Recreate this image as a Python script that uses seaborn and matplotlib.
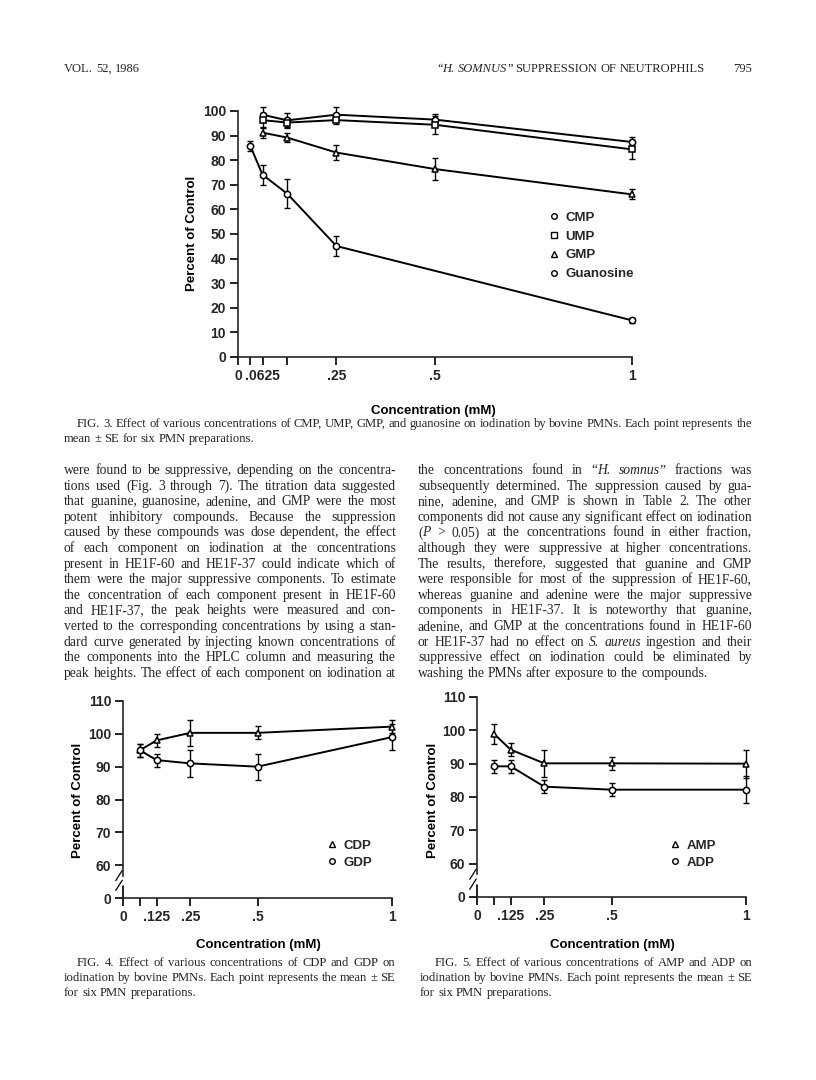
import numpy as np
import pandas as pd
import matplotlib
matplotlib.use("Agg")
import matplotlib.pyplot as plt
from matplotlib.lines import Line2D
import seaborn as sns

W, H = 816, 1080

# ---- FIG. 3 data (mM, percent of control, SE)
conc3 = [0.0625, 0.125, 0.25, 0.5, 1]
cmp_y = [98.5, 96.2, 98.5, 96.5, 87.4]
cmp_se = [3, 3, 3, 2.3, 2]
ump_y = [96.3, 95.3, 96.3, 94.4, 84.4]
ump_se = [3, 2, 1.5, 3.7, 4]
gmp_y = [91.2, 89.2, 83.1, 76.4, 66.1]
gmp_se = [2, 2, 3, 4.5, 2]
guo_x = [0.03125, 0.0625, 0.125, 0.25, 1]
guo_y = [85.9, 74.1, 66.4, 45.1, 14.9]
guo_se = [2, 4, 6, 4, 1]

# ---- FIG. 4 / FIG. 5 data
conc45 = [0.0625, 0.125, 0.25, 0.5, 1]
cdp_y = [95, 98, 100.3, 100.3, 102.2]
cdp_se = [2, 2, 4, 2, 2]
gdp_y = [95, 92, 91, 90, 99]
gdp_se = [2, 2, 4, 4, 4]
amp_y = [99, 94.2, 90.1, 90.1, 90]
amp_se = [3, 2, 4, 2, 4.2]
adp_y = [89.2, 89.2, 83.1, 82.2, 82.2]
adp_se = [2, 2, 2, 2, 4]

ticks3 = [0, 0.03125, 0.0625, 0.125, 0.25, 0.5, 1]
ticklab3 = ['0', '', '.0625', '', '.25', '.5', '1']
ticks45 = [0, 0.0625, 0.125, 0.25, 0.5, 1]
ticklab45 = ['0', '', '.125', '.25', '.5', '1']

header_left = "VOL. 52, 1986"
header_right = "“_H. SOMNUS_” SUPPRESSION OF NEUTROPHILS"
page_no = "795"

cap3 = ["FIG. 3. Effect of various concentrations of CMP, UMP, GMP, and guanosine on iodination by bovine PMNs. Each point represents the",
        "mean ± SE for six PMN preparations."]
cap4 = ["FIG. 4. Effect of various concentrations of CDP and GDP on",
        "iodination by bovine PMNs. Each point represents the mean ± SE",
        "for six PMN preparations."]
cap5 = ["FIG. 5. Effect of various concentrations of AMP and ADP on",
        "iodination by bovine PMNs. Each point represents the mean ± SE",
        "for six PMN preparations."]

col_left = [
    "were found to be suppressive, depending on the concentra-",
    "tions used (Fig. 3 through 7). The titration data suggested",
    "that guanine, guanosine, adenine, and GMP were the most",
    "potent inhibitory compounds. Because the suppression",
    "caused by these compounds was dose dependent, the effect",
    "of each component on iodination at the concentrations",
    "present in HE1F-60 and HE1F-37 could indicate which of",
    "them were the major suppressive components. To estimate",
    "the concentration of each component present in HE1F-60",
    "and HE1F-37, the peak heights were measured and con-",
    "verted to the corresponding concentrations by using a stan-",
    "dard curve generated by injecting known concentrations of",
    "the components into the HPLC column and measuring the",
    "peak heights. The effect of each component on iodination at",
]
col_right = [
    "the concentrations found in “_H._ _somnus_” fractions was",
    "subsequently determined. The suppression caused by gua-",
    "nine, adenine, and GMP is shown in Table 2. The other",
    "components did not cause any significant effect on iodination",
    "(_P_ > 0.05) at the concentrations found in either fraction,",
    "although they were suppressive at higher concentrations.",
    "The results, therefore, suggested that guanine and GMP",
    "were responsible for most of the suppression of HE1F-60,",
    "whereas guanine and adenine were the major suppressive",
    "components in HE1F-37. It is noteworthy that guanine,",
    "adenine, and GMP at the concentrations found in HE1F-60",
    "or HE1F-37 had no effect on _S._ _aureus_ ingestion and their",
    "suppressive effect on iodination could be eliminated by",
    "washing the PMNs after exposure to the compounds.",
]

sns.set_style("ticks")
sans = ['Liberation Sans', 'DejaVu Sans']
serif = ['Liberation Serif', 'DejaVu Serif']
plt.rcParams['font.family'] = sans
plt.rcParams['axes.linewidth'] = 1.2

fig = plt.figure(figsize=(W / 100, H / 100), dpi=100)
fig.patch.set_facecolor('white')
rend = fig.canvas.get_renderer()

lab_kw = dict(family=sans, weight='bold', size=9.5, color='black')
BODY = 9.8
CAP = 9.1


def put_line(line, x0, y, x1=None, size=BODY):
    # place a line word by word; '_' toggles italics; justify if x1 given
    ital = False
    words = []
    for w in line.split(' '):
        segs = []
        for k, p in enumerate(w.split('_')):
            if k > 0:
                ital = not ital
            if p:
                segs.append((p, ital))
        words.append(segs)
    objs, widths = [], []
    for segs in words:
        row, tot = [], 0
        for txt, it in segs:
            t = fig.text(0, 1 - y / H, txt, family=serif, size=size,
                         style='italic' if it else 'normal', va='baseline', ha='left')
            wd = t.get_window_extent(rend).width
            row.append((t, wd))
            tot += wd
        objs.append(row)
        widths.append(tot)
    gap = 0.25 * size * 100 / 72
    if x1 is not None and len(words) > 1:
        gap = (x1 - x0 - sum(widths)) / (len(words) - 1)
    x = x0
    for row in objs:
        for t, wd in row:
            t.set_x(x / W)
            x += wd
        x += gap
    return x


def make_axes(left, right, bottom, top):
    return fig.add_axes([left / W, 1 - bottom / H, (right - left) / W, (bottom - top) / H])


def style_axes(ax, xt, xl):
    sns.despine(ax=ax)
    ax.spines['left'].set_position(('data', 0))
    ax.set_xticks(xt)
    ax.set_xticklabels(xl)
    ax.tick_params(direction='out', length=5.5, width=1.2, color='black',
                   labelsize=10, pad=3)
    for lab in ax.get_xticklabels() + ax.get_yticklabels():
        lab.set_fontweight('bold')
        lab.set_family(sans)
    ax.set_xlabel('')
    ax.set_ylabel('')
    ax.patch.set_alpha(0)


def draw_series(ax, df, markers):
    sns.lineplot(data=df, x='conc', y='pct', style='series', markers=markers,
                 dashes=False, color='black', lw=1.4, markersize=4.5,
                 markerfacecolor='white', markeredgecolor='black', markeredgewidth=1.1,
                 errorbar=None, legend=False, ax=ax, zorder=3, clip_on=False)
    for name, g in df.groupby('series'):
        eb = ax.errorbar(g['conc'], g['pct'], yerr=g['se'], fmt='none', ecolor='black',
                         elinewidth=1, capsize=2.5, capthick=1, zorder=2)
        for a in list(eb.lines[1]) + list(eb.lines[2]):
            a.set_clip_on(False)


def legend(ax, names, markers, x, y, spacing):
    hs = [Line2D([], [], marker=markers[n], ls='none', mfc='white', mec='black',
                 mew=1, ms=4) for n in names]
    ax.legend(hs, names, loc='upper left', bbox_to_anchor=(x / W, 1 - y / H),
              bbox_transform=fig.transFigure, frameon=False, handlelength=0.6,
              handletextpad=0.6, labelspacing=spacing, borderpad=0,
              prop=dict(family=sans, weight='bold', size=9.5))


def long(xs, ys, ses, name):
    return pd.DataFrame({'conc': xs, 'pct': ys, 'se': ses, 'series': name})


# ---------------- FIG. 3
ax3 = make_axes(232, 632, 357, 111)
df3 = pd.concat([long(conc3, cmp_y, cmp_se, 'CMP'), long(conc3, ump_y, ump_se, 'UMP'),
                 long(conc3, gmp_y, gmp_se, 'GMP'), long(guo_x, guo_y, guo_se, 'Guanosine')])
mk3 = {'CMP': 'o', 'UMP': 's', 'GMP': '^', 'Guanosine': 'o'}
draw_series(ax3, df3, mk3)
ax3.set_xlim(-0.015, 1)
ax3.set_ylim(0, 100)
ax3.set_yticks(range(0, 101, 10))
style_axes(ax3, ticks3, ticklab3)
legend(ax3, ['CMP', 'UMP', 'GMP', 'Guanosine'], mk3, 543, 205, 0.5)
fig.text(192 / W, 1 - 233 / H, 'Percent of Control', rotation=90, ha='center', va='center', **lab_kw)
fig.text(433 / W, 1 - 411 / H, 'Concentration (mM)', ha='center', va='center', **lab_kw)


def broken_axes(left, right, bottom, top, df, mk, names, legx, legy):
    ax = make_axes(left, right, bottom, top)
    draw_series(ax, df, mk)
    ax.set_xlim(-0.015, 1)
    ax.set_ylim(50, 110)
    ax.set_yticks(range(50, 111, 10))
    ax.set_yticklabels(['0'] + [str(v) for v in range(60, 111, 10)])
    style_axes(ax, ticks45, ticklab45)
    ax.spines['left'].set_bounds(56.8, 110)
    ax.plot([0, 0], [50, 53.6], color='black', lw=1.2, clip_on=False)
    tr = ax.get_yaxis_transform()
    for yb in (53.2, 56.2):
        ax.plot([-0.012, 0.012], [yb - 0.9, yb + 2.2], color='black', lw=0.9,
                transform=tr, clip_on=False)
    legend(ax, names, mk, legx, legy, 0.35)
    return ax


# ---------------- FIG. 4
df4 = pd.concat([long(conc45, cdp_y, cdp_se, 'CDP'), long(conc45, gdp_y, gdp_se, 'GDP')])
mk4 = {'CDP': '^', 'GDP': 'o'}
broken_axes(119, 392, 898, 701, df4, mk4, ['CDP', 'GDP'], 321, 833)
fig.text(78 / W, 1 - 800 / H, 'Percent of Control', rotation=90, ha='center', va='center', **lab_kw)
fig.text(258 / W, 1 - 945 / H, 'Concentration (mM)', ha='center', va='center', **lab_kw)

# ---------------- FIG. 5
df5 = pd.concat([long(conc45, amp_y, amp_se, 'AMP'), long(conc45, adp_y, adp_se, 'ADP')])
mk5 = {'AMP': '^', 'ADP': 'o'}
broken_axes(473, 746, 897, 697, df5, mk5, ['AMP', 'ADP'], 664, 833)
fig.text(433 / W, 1 - 800 / H, 'Percent of Control', rotation=90, ha='center', va='center', **lab_kw)
fig.text(612 / W, 1 - 945 / H, 'Concentration (mM)', ha='center', va='center', **lab_kw)

# ---------------- page text
put_line(header_left, 64, 72, size=9)
put_line(header_right, 437, 72, size=9)
t = fig.text(752 / W, 1 - 72 / H, page_no, family=serif, size=9, ha='right', va='baseline')

put_line(cap3[0], 77, 427, 752, size=CAP)
put_line(cap3[1], 64, 442, size=CAP)

for i, line in enumerate(col_left):
    put_line(line, 64, 474 + 15.6 * i, 396)
for i, line in enumerate(col_right):
    put_line(line, 418, 474 + 15.6 * i, 752 if i < len(col_right) - 1 else None)

for i, line in enumerate(cap4):
    put_line(line, 77 if i == 0 else 64, 966 + 15 * i, 395 if i < 2 else None, size=CAP)
for i, line in enumerate(cap5):
    put_line(line, 435 if i == 0 else 420, 966 + 15 * i, 752 if i < 2 else None, size=CAP)

fig.savefig('out.png', dpi=100, facecolor='white')
